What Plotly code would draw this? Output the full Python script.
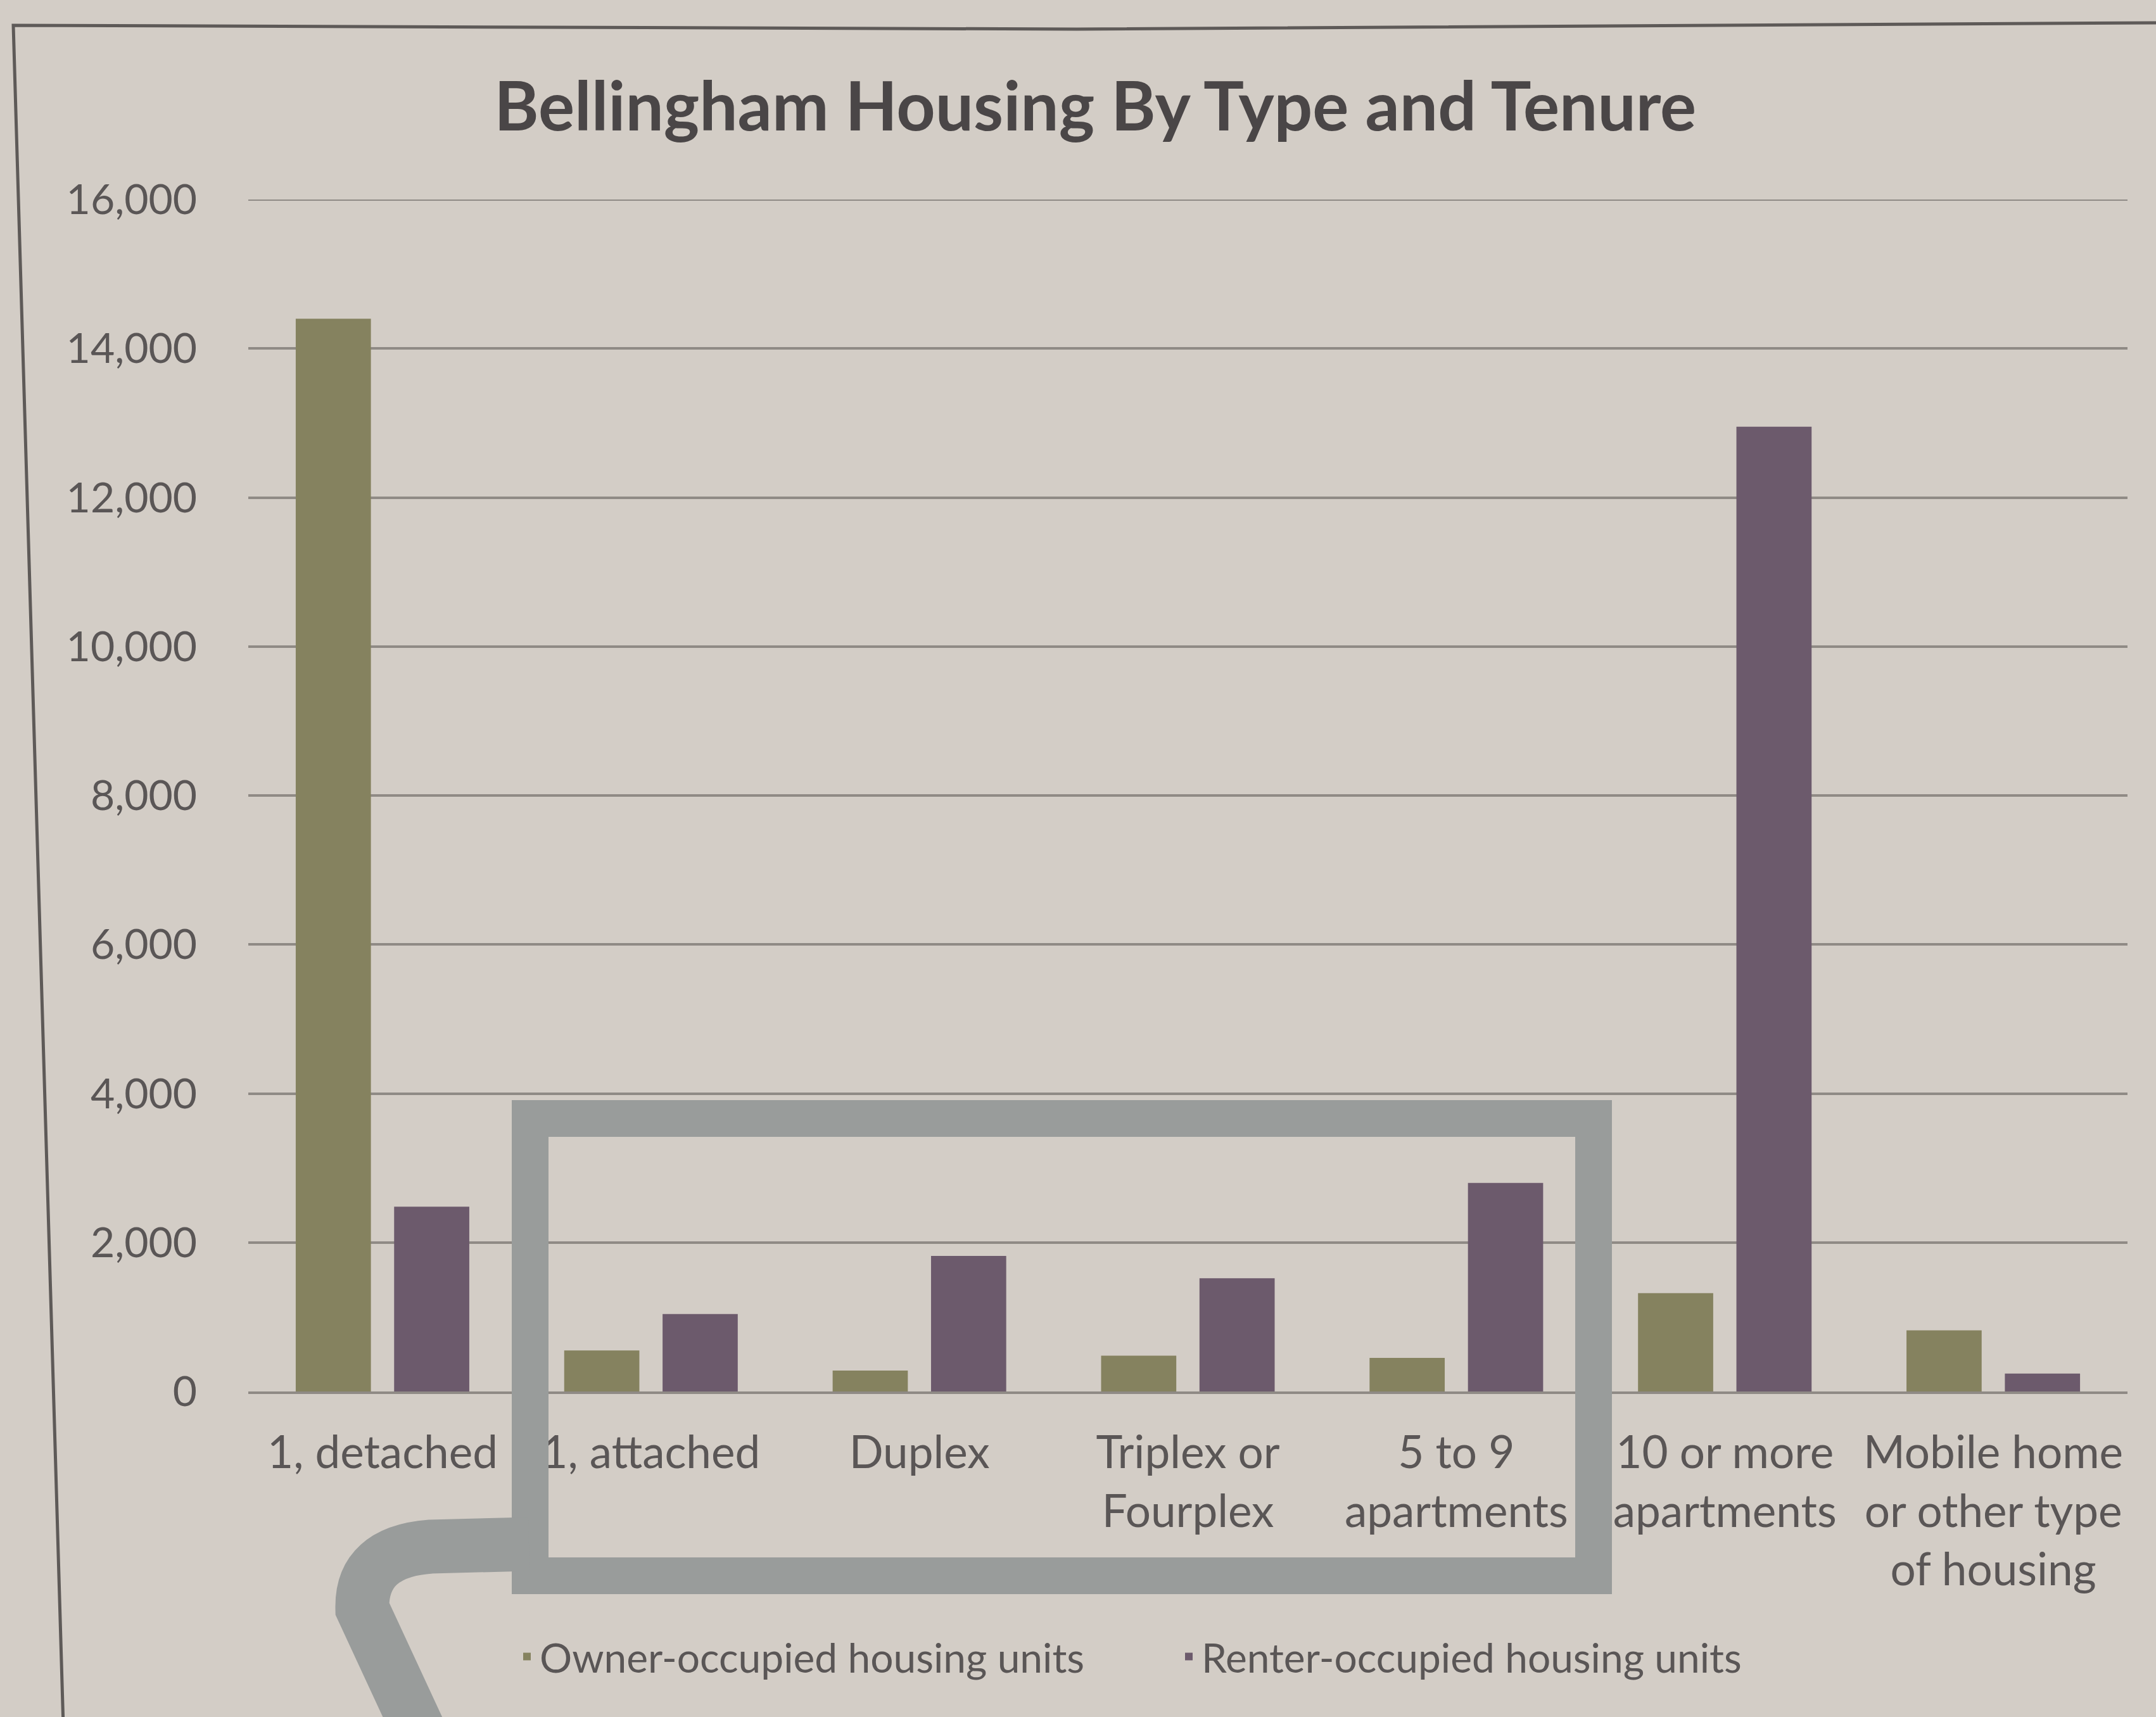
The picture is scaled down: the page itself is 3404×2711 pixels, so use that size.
import plotly.graph_objects as go

# Housing units by structure type and tenure
categories = [
    "1, detached",
    "1, attached",
    "Duplex",
    "Triplex or<br>Fourplex",
    "5 to 9<br>apartments",
    "10 or more<br>apartments",
    "Mobile home<br>or other type<br>of housing",
]
owner_units = [14400, 550, 280, 480, 450, 1320, 820]
renter_units = [2480, 1040, 1820, 1520, 2800, 12950, 240]

y_ticks = [0, 2000, 4000, 6000, 8000, 10000, 12000, 14000, 16000]

W, H = 3404, 2711
L, R, T, B = 392, 45, 315, 514

BG = "#d3cdc6"
OLIVE = "#85825f"
PURPLE = "#6c5a6c"
TEXT = "#5a5656"
GRID = "#8f8a85"
HILITE = "#999c9b"
FONT = "Lato, 'Open Sans', sans-serif"


def paper_x(x):
    return (x - L) / (W - L - R)


def paper_y(y):
    return 1 - (y - T) / (H - T - B)


fig = go.Figure()
fig.add_trace(go.Bar(
    x=categories, y=owner_units, name="Owner-occupied housing units",
    marker=dict(color=OLIVE, line=dict(width=0)),
))
fig.add_trace(go.Bar(
    x=categories, y=renter_units, name="Renter-occupied housing units",
    marker=dict(color=PURPLE, line=dict(width=0)),
))

# highlight frame around the small multi-unit categories, with its connector
x0, y0, x1, y1 = 837, 1766, 2516, 2488
frame_path = (
    f"M{paper_x(x0)},{paper_y(y0)} L{paper_x(x1)},{paper_y(y0)} "
    f"L{paper_x(x1)},{paper_y(y1)} L{paper_x(x0)},{paper_y(y1)} Z"
)
connector = (
    f"M{paper_x(835)},{paper_y(2438)} L{paper_x(680)},{paper_y(2442)} "
    f"Q{paper_x(570)},{paper_y(2450)} {paper_x(572)},{paper_y(2540)} "
    f"L{paper_x(674)},{paper_y(2760)}"
)
# slide border
border = (
    f"M{paper_x(101)},{paper_y(2760)} L{paper_x(21)},{paper_y(40)} "
    f"L{paper_x(1700)},{paper_y(46)} L{paper_x(3404)},{paper_y(36)}"
)

shapes = [
    dict(type="path", xref="paper", yref="paper", path=border,
         line=dict(color="#5e5a58", width=5), layer="above"),
    dict(type="line", xref="paper", yref="y", x0=0, x1=1, y0=16000, y1=16000,
         line=dict(color=GRID, width=4), layer="below"),
    dict(type="path", xref="paper", yref="paper", path=frame_path,
         line=dict(color=HILITE, width=58), layer="above"),
    dict(type="path", xref="paper", yref="paper", path=connector,
         line=dict(color=HILITE, width=85), layer="above"),
]

fig.update_layout(
    width=W, height=H,
    margin=dict(l=L, r=R, t=T, b=B),
    paper_bgcolor=BG, plot_bgcolor=BG,
    font=dict(family=FONT, color=TEXT, size=66),
    title=dict(
        text="<b>Bellingham Housing By Type and Tenure</b>",
        x=0.508, xanchor="center", y=1 - 169 / H, yanchor="middle",
        font=dict(family=FONT, size=107, color="#4a4647"),
    ),
    barmode="group", bargap=0.267, bargroupgap=0.236,
    showlegend=True,
    legend=dict(
        orientation="h", x=paper_x(812), xanchor="left",
        y=paper_y(2616), yanchor="middle",
        font=dict(family=FONT, size=64, color=TEXT),
        entrywidth=1000, entrywidthmode="pixels",
        bgcolor="rgba(0,0,0,0)",
    ),
    shapes=shapes,
)

fig.update_xaxes(
    type="category", showgrid=False, showline=True, linecolor=GRID, linewidth=4,
    ticks="", ticklabelstandoff=32,
    tickfont=dict(family=FONT, size=71, color=TEXT),
)
fig.update_yaxes(
    range=[0, 16000], tickvals=y_ticks, tickformat=",d",
    showgrid=True, gridcolor=GRID, gridwidth=4, zeroline=False,
    showline=False, ticks="", ticklabelstandoff=80,
    tickfont=dict(family=FONT, size=66, color=TEXT),
)

fig.write_html("out.html")
